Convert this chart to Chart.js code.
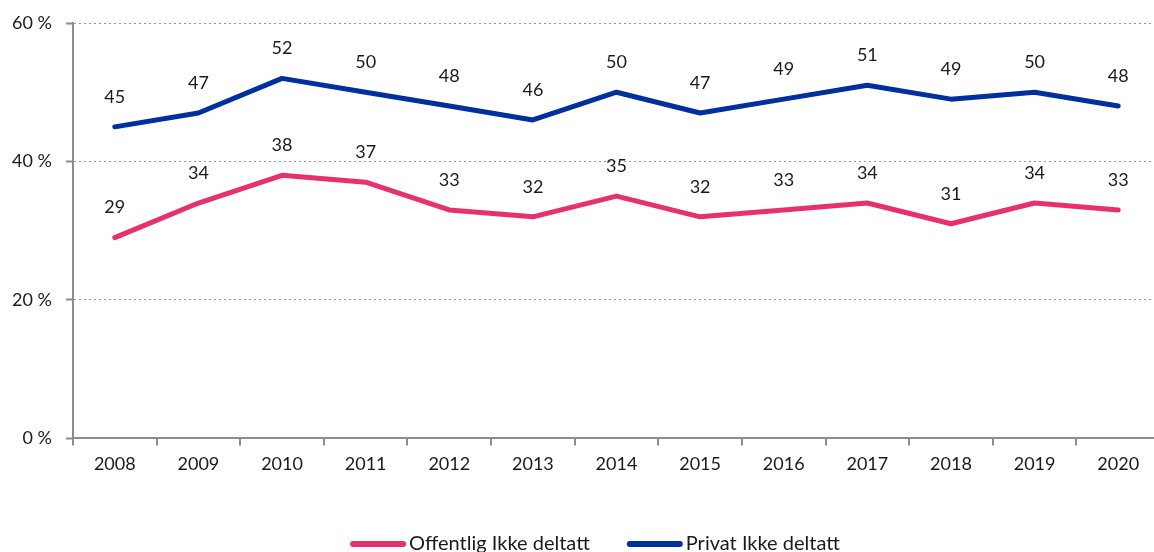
<!DOCTYPE html>
<html>
<head>
<meta charset="utf-8">
<script src="https://cdn.jsdelivr.net/npm/chart.js@4"></script>
<style>
  html, body { margin: 0; padding: 0; background: #fff; overflow: hidden; }
  #wrap { width: 1160px; height: 552px; }
</style>
</head>
<body>
<div id="wrap"><canvas id="chart"></canvas></div>
<script>
const years = ["2008", "2009", "2010", "2011", "2012", "2013", "2014", "2015", "2016", "2017", "2018", "2019", "2020"];
const offentlig = [29, 34, 38, 37, 33, 32, 35, 32, 33, 34, 31, 34, 33];
const privat = [45, 47, 52, 50, 48, 46, 50, 47, 49, 51, 49, 50, 48];
const seriesNames = ["Offentlig Ikke deltatt", "Privat Ikke deltatt"];
const seriesColors = ["#e8306f", "#0030a0"];

const fontFamily = "Lato, 'Noto Sans', sans-serif";
const textColor = "#1a1a1a";
const axisGrey = "#8c8c8c";

// writes each value above its point
const valueLabels = {
  id: "valueLabels",
  afterDatasetsDraw(chart) {
    const ctx = chart.ctx;
    ctx.save();
    ctx.font = "18px " + fontFamily;
    ctx.fillStyle = textColor;
    ctx.textAlign = "center";
    ctx.textBaseline = "middle";
    chart.data.datasets.forEach((ds, i) => {
      chart.getDatasetMeta(i).data.forEach((pt, j) => {
        ctx.fillText(ds.data[j], pt.x, pt.y - 30);
      });
    });
    ctx.restore();
  }
};

// legend row at the bottom: a short thick line followed by the series name
const lineLegend = {
  id: "lineLegend",
  afterDraw(chart) {
    const ctx = chart.ctx;
    ctx.save();
    ctx.font = "20px " + fontFamily;
    ctx.textBaseline = "middle";
    const swatch = 56, gap = 3, between = 37;
    const widths = seriesNames.map((n) => swatch + gap + ctx.measureText(n).width);
    const total = widths[0] + widths[1] + between;
    let x = 595 - total / 2;
    const y = 544;
    seriesNames.forEach((name, i) => {
      ctx.strokeStyle = seriesColors[i];
      ctx.lineWidth = 6;
      ctx.lineCap = "round";
      ctx.beginPath();
      ctx.moveTo(x + 3, y);
      ctx.lineTo(x + swatch - 3, y);
      ctx.stroke();
      ctx.fillStyle = textColor;
      ctx.fillText(name, x + swatch + gap, y);
      x += widths[i] + between;
    });
    ctx.restore();
  }
};

const ctx = document.getElementById("chart");

new Chart(ctx, {
  type: "line",
  data: {
    labels: years,
    datasets: seriesNames.map((name, i) => ({
      label: name,
      data: i === 0 ? offentlig : privat,
      borderColor: seriesColors[i],
      backgroundColor: seriesColors[i],
      borderWidth: 5,
      pointRadius: 0,
      borderCapStyle: "round",
      borderJoinStyle: "round",
      tension: 0,
    })),
  },
  options: {
    responsive: true,
    maintainAspectRatio: false,
    animation: false,
    layout: { padding: { top: 15, left: 0, right: 0, bottom: 69 } },
    plugins: {
      tooltip: { enabled: false },
      legend: { display: false },
    },
    scales: {
      x: {
        offset: true,
        grid: {
          offset: true,
          drawOnChartArea: false,
          drawTicks: true,
          tickLength: 7,
          color: axisGrey,
          lineWidth: 2,
        },
        border: { color: axisGrey, width: 2 },
        ticks: {
          font: { family: fontFamily, size: 18 },
          color: textColor,
          padding: 8,
          maxRotation: 0,
        },
      },
      y: {
        min: 0,
        max: 60,
        afterFit(scale) { scale.width = 73; },
        ticks: {
          stepSize: 20,
          font: { family: fontFamily, size: 18, lineHeight: 1 },
          color: textColor,
          padding: 14,
          callback: (v) => v + " %",
        },
        grid: {
          color: "#999",
          lineWidth: 1,
          tickLength: 7,
          tickColor: axisGrey,
          tickWidth: 2,
          tickBorderDash: [],
        },
        border: { color: axisGrey, width: 2, dash: [2, 3] },
      },
    },
  },
  plugins: [valueLabels, lineLegend],
});
</script>
</body>
</html>
